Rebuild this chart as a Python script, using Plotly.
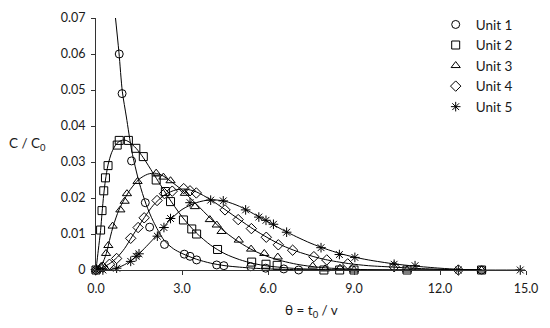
import plotly.graph_objects as go

# ---- data ----
unit1_x = [0.81, 0.91, 1.24, 1.72, 1.87, 2.39, 3.08, 3.28, 3.51, 4.21, 4.46, 5.4, 5.92, 6.55, 7.07, 13.45]
unit1_y = [0.060, 0.049, 0.0303, 0.0187, 0.0119, 0.0071, 0.0044, 0.0038, 0.0028, 0.0014, 0.0012, 0.0009, 0.0005, 0.0003, 0.0, 0.0]

unit2_x = [0, 0.16, 0.21, 0.27, 0.33, 0.42, 0.74, 0.81, 1.13, 1.39, 1.65, 2.1, 2.42, 2.6, 3.05, 3.34, 3.51, 4.24, 5.43, 5.93, 6.32, 7.95, 8.5, 9.0, 10.85, 13.45]
unit2_y = [0, 0.0111, 0.0165, 0.022, 0.0256, 0.029, 0.0347, 0.036, 0.036, 0.0338, 0.0315, 0.025, 0.0218, 0.019, 0.0139, 0.0114, 0.010, 0.0057, 0.0022, 0.0016, 0.0013, 0.0, 0.0, 0.0, 0.0, 0.0]

unit3_x = [0, 0.18, 0.35, 0.43, 0.58, 0.85, 1.0, 1.08, 1.45, 2.1, 2.35, 2.6, 3.1, 3.45, 3.97, 4.21, 4.38, 4.98, 5.41, 5.87, 6.34, 7.56, 7.99, 8.51, 9.0, 10.85, 13.45]
unit3_y = [0, 0.001, 0.0046, 0.0068, 0.0122, 0.0167, 0.0191, 0.0212, 0.0246, 0.0269, 0.0258, 0.0248, 0.0213, 0.0176, 0.0140, 0.0125, 0.0107, 0.0083, 0.0058, 0.0046, 0.0036, 0.0011, 0.0003, 0.0005, 0.0, 0.0, 0.0]

unit4_x = [0, 0.24, 0.47, 0.72, 1.21, 1.47, 1.68, 2.13, 2.39, 2.66, 3.06, 3.28, 3.50, 4.5, 4.96, 5.42, 5.94, 6.36, 6.86, 7.6, 8.05, 8.78, 10.4, 12.64]
unit4_y = [0, 0.0008, 0.0016, 0.0032, 0.0088, 0.0118, 0.0145, 0.0193, 0.0212, 0.0219, 0.0226, 0.0220, 0.0214, 0.0167, 0.0140, 0.0115, 0.0091, 0.0070, 0.0055, 0.0037, 0.0028, 0.0017, 0.0009, 0.0]

unit5_x = [0, 0.24, 0.72, 1.21, 1.40, 1.50, 2.14, 2.37, 2.60, 3.28, 4.0, 4.44, 5.22, 5.68, 5.93, 6.19, 6.65, 7.85, 8.49, 9.03, 10.4, 11.13, 12.64, 14.8]
unit5_y = [0, 0, 0.0005, 0.0024, 0.0038, 0.0045, 0.0094, 0.0118, 0.0143, 0.0187, 0.0194, 0.0192, 0.0167, 0.0147, 0.0138, 0.0127, 0.0105, 0.0062, 0.0043, 0.0035, 0.0016, 0.0012, 0.0, 0.0]

# fitted curves
curve1_x = [0.66, 0.80, 0.92, 1.06, 1.25, 1.5, 1.75, 2.0, 2.38, 2.7, 3.0, 3.5, 4.0, 4.5, 5.0, 5.5, 6.0, 7.0, 8.0, 13.45]
curve1_y = [0.0715, 0.0605, 0.0495, 0.0425, 0.033, 0.0245, 0.0182, 0.0135, 0.0082, 0.0059, 0.0046, 0.003, 0.0019, 0.0012, 0.0008, 0.0005, 0.0003, 0.0001, 0.0, 0.0]

curve2_x = [0, 0.08, 0.16, 0.21, 0.27, 0.33, 0.42, 0.55, 0.7, 0.85, 1.0, 1.15, 1.4, 1.65, 2.0, 2.5, 3.0, 3.5, 4.0, 4.5, 5.0, 5.5, 6.0, 7.0, 8.0, 9.0, 13.45]
curve2_y = [0, 0.0055, 0.011, 0.0158, 0.021, 0.025, 0.0292, 0.0327, 0.0349, 0.0359, 0.0361, 0.0356, 0.0338, 0.0312, 0.0268, 0.0205, 0.0148, 0.0103, 0.0069, 0.0045, 0.0029, 0.0018, 0.0011, 0.0004, 0.0001, 0.0, 0.0]

curve3_x = [0, 0.2, 0.36, 0.5, 0.6, 0.8, 1.0, 1.2, 1.5, 1.8, 2.05, 2.3, 2.6, 3.0, 3.5, 4.0, 4.5, 5.0, 5.5, 6.0, 6.5, 7.0, 7.5, 8.0, 9.0, 10.0, 13.45]
curve3_y = [0, 0.0015, 0.0046, 0.0092, 0.0122, 0.0167, 0.0198, 0.0224, 0.0252, 0.0266, 0.0269, 0.0263, 0.0247, 0.0222, 0.0183, 0.0143, 0.0106, 0.0077, 0.0054, 0.0037, 0.0025, 0.0016, 0.0010, 0.0006, 0.0002, 0.0, 0.0]

curve4_x = [0, 0.25, 0.5, 0.75, 1.0, 1.25, 1.5, 1.75, 2.0, 2.4, 2.8, 3.1, 3.5, 4.0, 4.5, 5.0, 5.5, 6.0, 6.5, 7.0, 7.6, 8.0, 8.8, 9.5, 10.4, 11.0, 12.0, 12.64, 13.45]
curve4_y = [0, 0.0008, 0.0019, 0.0036, 0.006, 0.0092, 0.0123, 0.0153, 0.018, 0.0209, 0.0223, 0.0225, 0.0217, 0.0195, 0.0168, 0.014, 0.0113, 0.0089, 0.0068, 0.0052, 0.0037, 0.0029, 0.0018, 0.0012, 0.0008, 0.0005, 0.0002, 0.0, 0.0]

curve5_x = [0, 0.5, 0.75, 1.0, 1.25, 1.5, 1.75, 2.0, 2.3, 2.6, 3.0, 3.5, 4.0, 4.5, 5.0, 5.5, 6.0, 6.5, 7.0, 7.5, 8.0, 8.5, 9.0, 9.5, 10.4, 11.1, 12.0, 12.64, 13.45, 14.8]
curve5_y = [0, 0.0001, 0.0006, 0.0015, 0.0028, 0.0045, 0.0065, 0.0086, 0.0114, 0.014, 0.0168, 0.0187, 0.0195, 0.0191, 0.0177, 0.0156, 0.0134, 0.0112, 0.0092, 0.0074, 0.0059, 0.0046, 0.0036, 0.0028, 0.0017, 0.0011, 0.0005, 0.0002, 0.0, 0.0]

series_names = ["Unit 1", "Unit 2", "Unit 3", "Unit 4", "Unit 5"]
x_tickvals = [0, 3, 6, 9, 12, 15]
x_ticktext = ["0.0", "3.0", "6.0", "9.0", "12.0", "15.0"]
y_tickvals = [0, 0.01, 0.02, 0.03, 0.04, 0.05, 0.06, 0.07]
y_ticktext = ["0", "0.01", "0.02", "0.03", "0.04", "0.05", "0.06", "0.07"]

markers = [
    (unit1_x, unit1_y, "circle-open"),
    (unit2_x, unit2_y, "square-open"),
    (unit3_x, unit3_y, "triangle-up-open"),
    (unit4_x, unit4_y, "diamond-open"),
    (unit5_x, unit5_y, "asterisk-open"),
]
curves = [(curve1_x, curve1_y), (curve2_x, curve2_y), (curve3_x, curve3_y),
          (curve4_x, curve4_y), (curve5_x, curve5_y)]

FONT = "Lato"
TXT = "#1a1a1a"
fig = go.Figure()
for cx, cy in curves:
    fig.add_trace(go.Scatter(x=cx, y=cy, mode="lines", showlegend=False,
                             line=dict(color="black", width=1, shape="spline", smoothing=0.8),
                             hoverinfo="skip"))
for (mx, my, sym), name in zip(markers, series_names):
    fig.add_trace(go.Scatter(x=mx, y=my, mode="markers", name=name,
                             marker=dict(symbol=sym, size=8, color="black",
                                         line=dict(width=1, color="black")),
                             cliponaxis=False))

axis_common = dict(showgrid=False, zeroline=False, showline=True, linecolor="#333",
                   linewidth=1, ticks="outside", ticklen=4, tickcolor="#333",
                   tickfont=dict(family=FONT, size=12.5, color=TXT))
fig.update_layout(
    width=534, height=312,
    margin=dict(l=88, r=16, t=10, b=50, autoexpand=False),
    paper_bgcolor="white", plot_bgcolor="white",
    font=dict(family=FONT, size=12.5, color=TXT),
    xaxis=dict(range=[0, 15], tickvals=x_tickvals, ticktext=x_ticktext,
               ticklabelstandoff=3, **axis_common),
    yaxis=dict(range=[0, 0.07], tickvals=y_tickvals, ticktext=y_ticktext,
               ticklabelstandoff=3, **axis_common),
    legend=dict(x=0.79, y=1.035, xanchor="left", yanchor="top",
                font=dict(family=FONT, size=13.5, color=TXT),
                bgcolor="rgba(0,0,0,0)", tracegroupgap=0, itemwidth=30),
    annotations=[
        dict(text="C / C<sub>0</sub>", xref="paper", yref="paper", x=-0.16, y=0.5,
             xanchor="center", yanchor="middle", showarrow=False,
             font=dict(family=FONT, size=13.5, color=TXT)),
        dict(text="θ = t<sub>0</sub> / v", xref="paper", yref="paper", x=0.5, y=-0.163,
             xanchor="center", yanchor="middle", showarrow=False,
             font=dict(family=FONT, size=13.5, color=TXT)),
    ],
)
fig.write_html("out.html")
